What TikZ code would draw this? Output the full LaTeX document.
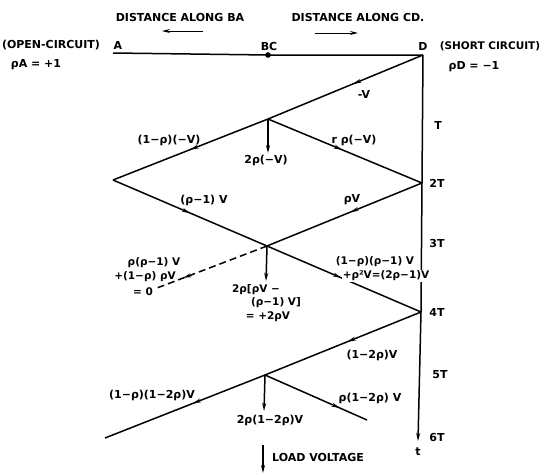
\documentclass[tikz,border=0pt]{standalone}
\usepackage{fontspec}
\setmainfont{DejaVu Sans}
\usetikzlibrary{arrows.meta,decorations.markings}
\begin{document}
\begin{tikzpicture}[x=1pt,y=-1pt,line width=1.5pt,
  every node/.style={font=\fontsize{11}{12}\selectfont\bfseries, inner sep=1pt},
  ma/.style={postaction={decorate,decoration={markings,mark=at position #1 with {\arrow{Stealth[length=8pt,width=4pt]}}}}},
  ar/.style={-{Stealth[length=8pt,width=4pt]}},
  sm/.style={font=\fontsize{10.5}{12}\selectfont\bfseries}]
\useasboundingbox (0,0) rectangle (542,474);
% points
\coordinate (A) at (113,53);
\coordinate (BC) at (268,55);
\coordinate (D) at (423,55);
\coordinate (J1) at (268,119);
\coordinate (L1) at (113,180);
\coordinate (P2) at (422,183);
\coordinate (J2) at (267,246);
\coordinate (P4) at (421,312);
\coordinate (E1) at (157,288);
\coordinate (J3) at (265,375);
\coordinate (E2) at (105,438);
\coordinate (E3) at (367,420);
\coordinate (tEnd) at (418,441);
\coordinate (V1) at (268,153);
\coordinate (V2) at (266,281);
\coordinate (V3) at (264,411);
\coordinate (LV1) at (263,445);
\coordinate (LV2) at (263,473);
\coordinate (ba1) at (203,31);
\coordinate (ba2) at (162,31);
\coordinate (cd1) at (315,33);
\coordinate (cd2) at (358,33);
% lines
\draw (A) -- (BC) -- (D);
\fill (BC) circle (2.8pt);
\draw[ar] (D) -- (P2) -- (P4) -- (tEnd);
\draw[ma=0.45] (D) -- (J1);
\draw[ma=0.5] (J1) -- (L1);
\draw[ma=0.48] (J1) -- (P2);
\draw[ma=0.5] (L1) -- (J2);
\draw[ma=0.48] (J2) -- (P4);
\draw[ma=0.46] (P2) -- (J2);
\draw[dash pattern=on 7pt off 4pt, ma=0.76] (J2) -- (E1);
\draw[ma=0.47] (P4) -- (J3);
\draw[ma=0.45] (J3) -- (E2);
\draw[ma=0.73] (J3) -- (E3);
\draw[ar] (J1) -- (V1);
\draw[ar] (J2) -- (V2);
\draw[ar] (J3) -- (V3);
\draw[ar] (LV1) -- (LV2);
\draw[ar, line width=1pt] (ba1) -- (ba2);
\draw[ar, line width=1pt] (cd1) -- (cd2);
% labels
\node (tBA) at (180,17) {DISTANCE ALONG BA};
\node (tCD) at (358,17) {DISTANCE ALONG CD.};
\node (tOC) at (51,45) {(OPEN-CIRCUIT)};
\node (tA) at (118,45) {A};
\node (tBC) at (269,46) {BC};
\node (tD) at (423,46) {D};
\node[sm] (tSC) at (490,46) {(SHORT CIRCUIT)};
\node (rA) at (36,65) {ρA = +1};
\node (rD) at (474,67) {ρD = −1};
\node (lT) at (438,125) {T};
\node (l2T) at (437,183) {2T};
\node (l3T) at (437,243) {3T};
\node (l4T) at (437,312) {4T};
\node (l5T) at (440,375) {5T};
\node (l6T) at (437,437) {6T};
\node (lt) at (418,452) {t};
\node (mV) at (364,94) {-V};
\node (w1) at (169,140) {(1−ρ)(−V)};
\node (w2) at (266,160) {2ρ(−V)};
\node (w3) at (354,140) {r ρ(−V)};
\node (w4) at (204,200) {(ρ−1) V};
\node (w5) at (352,200) {ρV};
\node[sm] (w6a) at (154,263) {ρ(ρ−1) V};
\node[sm] (w6b) at (145,277) {+(1−ρ) ρV};
\node[sm] (w6c) at (143,292) {= 0};
\node[sm] (w7a) at (256,290) {2ρ[ρV −};
\node[sm] (w7b) at (276,303) {(ρ−1) V]};
\node[sm] (w7c) at (268,317) {= +2ρV};
\node[sm, fill=white] (w8a) at (375,262) {(1−ρ)(ρ−1) V};
\node[sm, fill=white] (w8b) at (386,276) {+ρ²V=(2ρ−1)V};
\node (w9) at (372,355) {(1−2ρ)V};
\node (w10) at (370,398) {ρ(1−2ρ) V};
\node (w11) at (270,420) {2ρ(1−2ρ)V};
\node (w12) at (152,395) {(1−ρ)(1−2ρ)V};
\node (lv) at (318,457) {LOAD VOLTAGE};
\end{tikzpicture}
\end{document}
